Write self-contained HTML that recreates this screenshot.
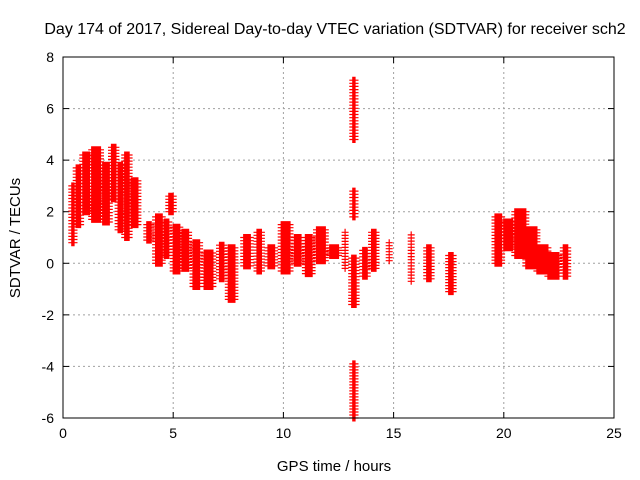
<!DOCTYPE html>
<html><head><meta charset="utf-8"><style>
body{margin:0;background:#fff;}
svg{display:block;font-family:"Liberation Sans",sans-serif;}
</style></head><body>
<svg id="chart" width="640" height="480" viewBox="0 0 640 480">
<text x="335" y="34" font-size="16" text-anchor="middle">Day 174 of 2017, Sidereal Day-to-day VTEC variation (SDTVAR) for receiver sch2</text>
<text x="334" y="471" font-size="15" text-anchor="middle">GPS time / hours</text>
<text transform="translate(20,238) rotate(-90)" font-size="15" text-anchor="middle">SDTVAR / TECUs</text>
<g id="grid"></g><g id="ticks"></g><g id="marks"></g>
<rect x="63" y="57" width="551" height="361" fill="none" stroke="#000" stroke-width="1"/>
</svg>
<script>
const xTicks=[0,5,10,15,20,25];
const yTicks=[-6,-4,-2,0,2,4,6,8];
// clusters: start hour, end hour, min value, max value
const tStart=[0.4,0.6,0.9,1.3,1.8,2.2,2.5,2.8,3.1,3.8,4.2,4.6,4.8,5.0,5.4,5.9,6.4,7.1,7.5,8.2,8.8,9.3,9.9,10.5,11.0,11.5,12.1,12.8,13.1,13.15,13.15,13.15,13.6,14.0,14.8,15.8,16.5,17.5,19.6,20.0,20.5,21.0,21.5,22.0,22.7];
const tEnd  =[0.5,0.8,1.2,1.7,2.1,2.4,2.7,3.0,3.4,4.0,4.5,4.8,5.0,5.3,5.7,6.2,6.8,7.3,7.8,8.5,9.0,9.6,10.3,10.8,11.3,11.9,12.5,12.8,13.3,13.25,13.25,13.25,13.8,14.2,14.8,15.8,16.7,17.7,19.9,20.4,21.0,21.5,22.0,22.5,22.9];
const vMin  =[0.8,1.5,2.0,1.7,1.6,2.5,1.3,1.0,1.5,0.9,0.0,0.3,2.0,-0.3,-0.2,-0.9,-0.9,-0.6,-1.4,-0.1,-0.3,-0.1,-0.3,0.0,-0.4,0.1,0.3,-0.2,-1.6,4.8,-6.0,1.8,-0.5,-0.2,0.1,-0.7,-0.6,-1.1,0.0,0.6,0.3,-0.1,-0.3,-0.5,-0.5];
const vMax  =[3.0,3.7,4.2,4.4,3.8,4.5,3.8,4.2,3.2,1.5,1.8,1.6,2.6,1.4,1.2,0.8,0.4,0.7,0.6,1.0,1.2,0.6,1.5,1.0,1.0,1.3,0.6,1.2,0.2,7.1,-3.9,2.8,0.5,1.2,0.8,1.1,0.6,0.3,1.8,1.6,2.0,1.3,0.6,0.3,0.6];
const X0=63,X1=614,Y0=418,Y1=57,xmax=25,ymin=-6,ymax=8;
const sx=v=>X0+(v/xmax)*(X1-X0);
const sy=v=>Y0-(v-ymin)/(ymax-ymin)*(Y0-Y1);
const NS="http://www.w3.org/2000/svg";
const grid=document.getElementById('grid'),ticks=document.getElementById('ticks'),marks=document.getElementById('marks');
function mk(tag,a,p){const e=document.createElementNS(NS,tag);for(const k in a)e.setAttribute(k,a[k]);p.appendChild(e);return e;}
xTicks.forEach(t=>{const x=sx(t);
 if(t>0&&t<xmax){const g=mk('line',{x1:x,x2:x,y1:Y1,y2:Y0,stroke:'#a0a0a0','stroke-dasharray':'2,3'},grid);
 
 }
 mk('line',{x1:x,x2:x,y1:Y0,y2:Y0-6,stroke:'#000'},ticks);mk('line',{x1:x,x2:x,y1:Y1,y2:Y1+6,stroke:'#000'},ticks);
 const l=mk('text',{x:x,y:Y0+20,'font-size':14,'text-anchor':'middle'},ticks);l.textContent=t;
 
 });
yTicks.forEach(t=>{const y=sy(t);
 if(t>ymin&&t<ymax){const g=mk('line',{x1:X0,x2:X1,y1:y,y2:y,stroke:'#a0a0a0','stroke-dasharray':'2,3'},grid);
 
 }
 mk('line',{x1:X0,x2:X0+6,y1:y,y2:y,stroke:'#000'},ticks);mk('line',{x1:X1,x2:X1-6,y1:y,y2:y,stroke:'#000'},ticks);
 const l=mk('text',{x:X0-9,y:y+5,'font-size':14,'text-anchor':'end'},ticks);l.textContent=t;
 
 });
let d='';
for(let i=0;i<tStart.length;i++){
 const dt=Math.max(tEnd[i]-tStart[i],0);const nt=Math.max(1,Math.round(dt/0.05));
 const dv=vMax[i]-vMin[i];const nv=Math.max(1,Math.round(dv/0.12));
 for(let a=0;a<=nt;a++)for(let b=0;b<=nv;b++){
  const x=sx(tStart[i]+dt*a/nt),y=sy(vMin[i]+dv*b/nv);
  d+=`M${(x-3.5).toFixed(1)} ${y.toFixed(1)}h7M${x.toFixed(1)} ${(y-3.5).toFixed(1)}v7`;
 }
}
const p=mk('path',{d:d,stroke:'#ff0000','stroke-width':1.2,fill:'none'},marks);


</script>
</body></html>
